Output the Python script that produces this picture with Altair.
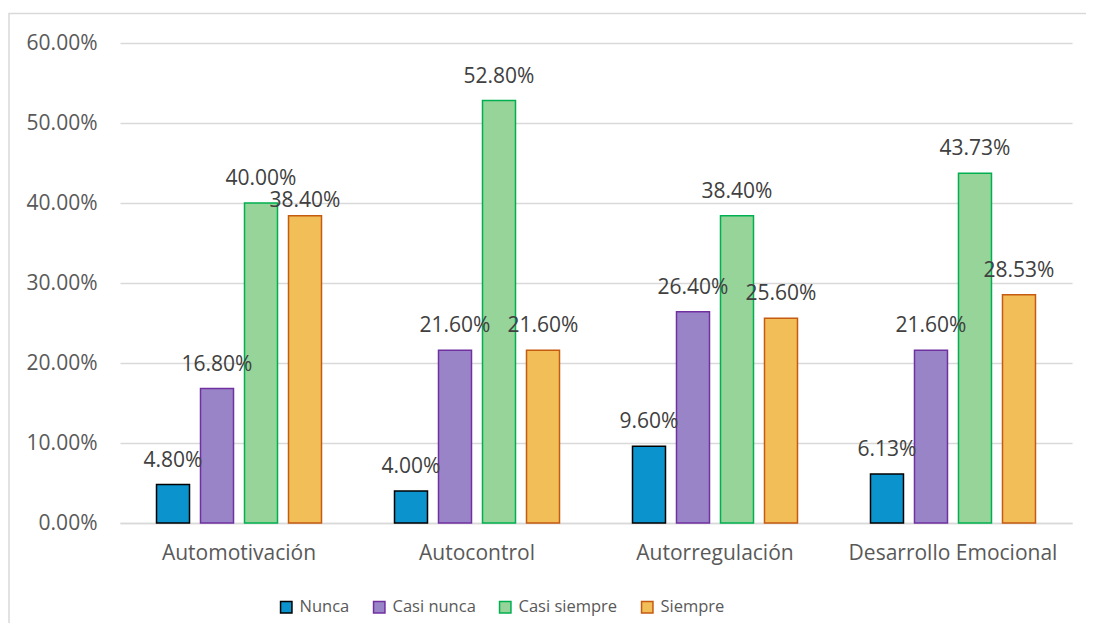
import altair as alt
import pandas as pd

categories = ["Automotivación", "Autocontrol", "Autorregulación", "Desarrollo Emocional"]
series = ["Nunca", "Casi nunca", "Casi siempre", "Siempre"]
nunca = [0.0480, 0.0400, 0.0960, 0.0613]
casi_nunca = [0.1680, 0.2160, 0.2640, 0.2160]
casi_siempre = [0.4000, 0.5280, 0.3840, 0.4373]
siempre = [0.3840, 0.2160, 0.2560, 0.2853]
y_ticks = [0.0, 0.1, 0.2, 0.3, 0.4, 0.5, 0.6]

fills = ["#0A93CC", "#9A84C8", "#96D49A", "#F2BE57"]
strokes = ["#000000", "#7030A0", "#00B050", "#C55A11"]

rows = []
for s, vals in zip(series, [nunca, casi_nunca, casi_siempre, siempre]):
    for c, v in zip(categories, vals):
        rows.append({"Categoria": c, "Serie": s, "Valor": v})
df = pd.DataFrame(rows)

FONT = "Open Sans"

x_enc = alt.X("Categoria:N", sort=categories, title=None,
              scale=alt.Scale(paddingInner=0.3067, paddingOuter=0.1534),
              axis=alt.Axis(labelAngle=0, labelFont=FONT, labelFontSize=21,
                            labelColor="#595959", ticks=False, tickSize=0,
                            labelPadding=19, labelLimit=0, domainColor="#D9D9D9",
                            domainWidth=1.5, grid=False))
xoff_enc = alt.XOffset("Serie:N", sort=series,
                       scale=alt.Scale(paddingInner=0.25, paddingOuter=0))
y_enc = alt.Y("Valor:Q", title=None,
              scale=alt.Scale(domain=[0, 0.6], nice=False),
              axis=alt.Axis(values=y_ticks, format=".2%", labelFont=FONT,
                            labelFontSize=21, labelColor="#595959",
                            ticks=False, tickSize=0, labelPadding=23,
                            domain=False, gridColor="#D9D9D9", gridWidth=1.5))

legend_kw = dict(title=None, orient="none", direction="horizontal",
                 legendX=158, legendY=556,
                 symbolType="square", symbolSize=130,
                 labelFont=FONT, labelFontSize=16.5,
                 labelColor="#595959", labelOffset=5,
                 columnPadding=20)

bars = alt.Chart(df).mark_bar(strokeWidth=1.5).encode(
    x=x_enc,
    xOffset=xoff_enc,
    y=y_enc,
    fill=alt.Fill("Serie:N", sort=series,
                  scale=alt.Scale(domain=series, range=fills),
                  legend=alt.Legend(**legend_kw)),
    stroke=alt.Stroke("Serie:N", sort=series,
                      scale=alt.Scale(domain=series, range=strokes),
                      legend=alt.Legend(**legend_kw)),
)

is_shifted = "datum.Categoria == 'Automotivación' && datum.Serie == 'Siempre'"

labels = alt.Chart(df).transform_filter(f"!({is_shifted})").mark_text(
    font=FONT, fontSize=21, color="#404040", baseline="alphabetic", dy=-18
).encode(
    x=x_enc,
    xOffset=xoff_enc,
    y=y_enc,
    text=alt.Text("Valor:Q", format=".2%"),
)

labels_low = alt.Chart(df).transform_filter(is_shifted).mark_text(
    font=FONT, fontSize=21, color="#404040", baseline="alphabetic", dy=-9
).encode(
    x=x_enc,
    xOffset=xoff_enc,
    y=y_enc,
    text=alt.Text("Valor:Q", format=".2%"),
)

frame = alt.Chart(pd.DataFrame({"f": [0]})).mark_rect(
    fill=None, stroke="#D9D9D9", strokeWidth=1.5
).encode(
    x=alt.value(-111), x2=alt.value(1200),
    y=alt.value(-29.5), y2=alt.value(900),
)

chart = alt.layer(frame, bars, labels, labels_low).properties(
    width=952, height=480,
    autosize=alt.AutoSizeParams(type="none"),
    padding={"left": 112, "top": 35, "right": 14, "bottom": 100},
).configure_view(stroke=None)

chart.save("out.html", embed_options={"renderer": "svg", "actions": False})
